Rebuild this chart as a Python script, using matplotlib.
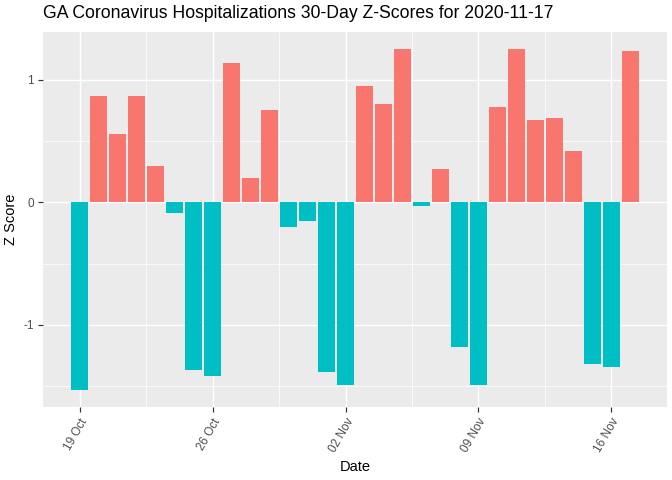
import numpy as np
import pandas as pd
import matplotlib
matplotlib.use('Agg')
import matplotlib.pyplot as plt
import matplotlib.dates as mdates

plt.rcParams['font.family'] = ['Liberation Sans', 'DejaVu Sans']

# 30 days of z-scores ending 2020-11-17
dates = pd.date_range('2020-10-19', '2020-11-17', freq='D')
z_scores = [-1.53, 0.87, 0.56, 0.87, 0.30, -0.09, -1.37, -1.42,
            1.14, 0.20, 0.75, -0.20, -0.155, -1.385, -1.49,
            0.95, 0.80, 1.25, -0.03, 0.27, -1.18, -1.49,
            0.78, 1.25, 0.67, 0.685, 0.42, -1.32, -1.34, 1.23]
tick_dates = pd.to_datetime(['2020-10-19', '2020-10-26', '2020-11-02',
                             '2020-11-09', '2020-11-16'])
y_ticks = [-1, 0, 1]
title = 'GA Coronavirus Hospitalizations 30-Day Z-Scores for 2020-11-17'

z = np.array(z_scores)
colors = np.where(z > 0, '#F8766D', '#00BFC4')

fig = plt.figure(figsize=(7, 5), dpi=96)
ax = fig.add_axes([43 / 672, 1 - 407 / 480, 624 / 672, 375 / 480])
ax.set_facecolor('#EBEBEB')

x = mdates.date2num(dates)
ax.bar(x, z, width=0.9, color=colors, zorder=3)

# ggplot-like limits (5% expansion)
lo, hi = x[0] - 0.45, x[-1] + 0.45
pad = (hi - lo) * 0.05
ax.set_xlim(lo - pad, hi + pad)
ymin, ymax = min(z.min(), 0), max(z.max(), 0)
ypad = (ymax - ymin) * 0.05
ax.set_ylim(ymin - ypad, ymax + ypad)

tx = mdates.date2num(tick_dates)
ax.set_xticks(tx)
ax.set_xticklabels([d.strftime('%d %b') for d in tick_dates],
                   rotation=60, ha='right', va='top', rotation_mode='anchor',
                   color='#4D4D4D', fontsize=8.8)
ax.set_xticks((tx[:-1] + tx[1:]) / 2, minor=True)
ax.set_yticks(y_ticks)
ax.set_yticklabels([str(t) for t in y_ticks], color='#4D4D4D', fontsize=8.8)
ax.set_yticks([-1.5, -0.5, 0.5], minor=True)

ax.grid(which='major', color='white', linewidth=1.1, zorder=0)
ax.grid(which='minor', color='white', linewidth=0.55, zorder=0)
ax.tick_params(which='major', length=3.5, color='#333333', width=0.9)
ax.tick_params(which='minor', length=0)
for s in ax.spines.values():
    s.set_visible(False)

ax.set_xlabel('Date', fontsize=11, labelpad=4)
ax.set_ylabel('Z Score', fontsize=11, labelpad=4)
fig.text(43 / 672, 1 - 14 / 480, title, fontsize=13.2, ha='left', va='center')

fig.savefig('out.png', dpi=96)
